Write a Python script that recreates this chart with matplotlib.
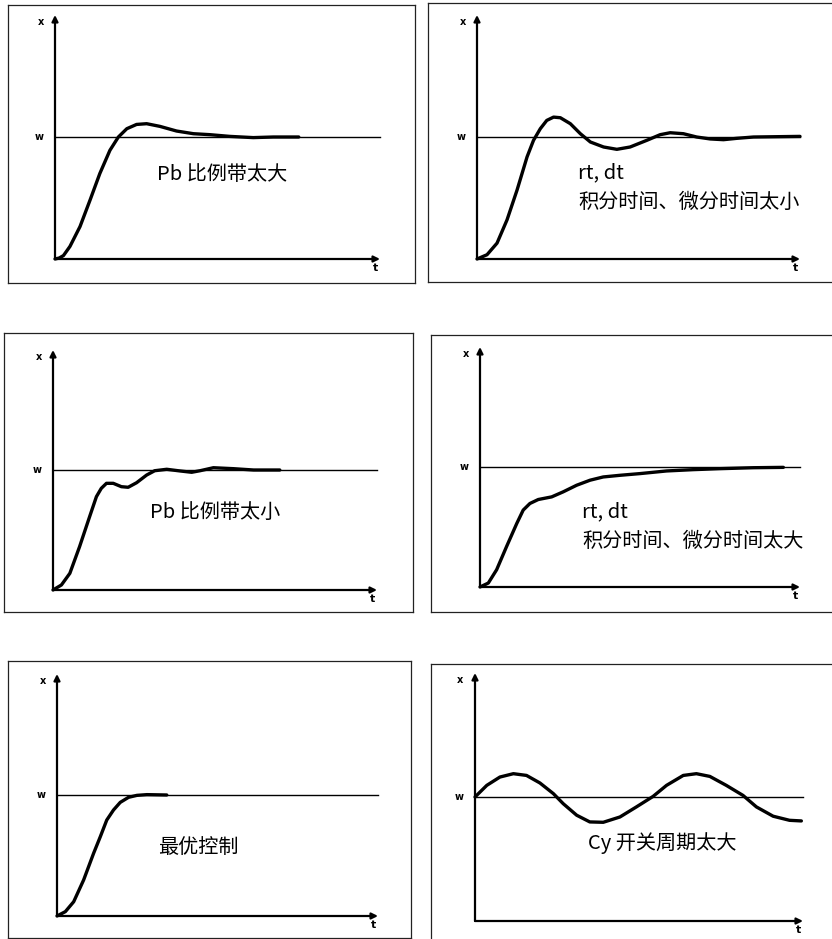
import matplotlib
matplotlib.use("Agg")
import matplotlib.pyplot as plt

plt.rcParams["font.family"] = ["Noto Sans CJK SC", "DejaVu Sans"]

# curves: t runs 0..1 along the time axis, x in units of w
t_pb_big = [0, 0.013, 0.026, 0.046, 0.077, 0.108, 0.138, 0.169, 0.195, 0.221, 0.251,
            0.282, 0.323, 0.374, 0.426, 0.477, 0.538, 0.610, 0.672, 0.75]
x_pb_big = [0, 0.008, 0.028, 0.103, 0.266, 0.484, 0.701, 0.891, 1.0, 1.068, 1.103,
            1.109, 1.087, 1.049, 1.027, 1.019, 1.005, 0.995, 1.0, 1.0]

t_it_small = [0, 0.031, 0.062, 0.093, 0.124, 0.155, 0.175, 0.196, 0.216, 0.237, 0.258,
              0.289, 0.320, 0.351, 0.392, 0.433, 0.474, 0.526, 0.567, 0.598, 0.639,
              0.680, 0.722, 0.763, 0.804, 0.856, 1.0]
x_it_small = [0, 0.035, 0.130, 0.321, 0.565, 0.837, 0.973, 1.068, 1.136, 1.163, 1.158,
              1.109, 1.027, 0.959, 0.918, 0.899, 0.918, 0.973, 1.019, 1.035, 1.027,
              1.0, 0.984, 0.978, 0.989, 1.0, 1.005]

t_pb_small = [0, 0.026, 0.052, 0.082, 0.113, 0.134, 0.149, 0.165, 0.186, 0.211, 0.232,
              0.258, 0.289, 0.314, 0.351, 0.392, 0.428, 0.454, 0.495, 0.557, 0.619, 0.70]
x_pb_small = [0, 0.042, 0.139, 0.361, 0.611, 0.778, 0.847, 0.889, 0.889, 0.861, 0.856,
              0.894, 0.958, 0.994, 1.006, 0.992, 0.981, 0.994, 1.019, 1.011, 1.0, 1.0]

t_it_big = [0, 0.026, 0.052, 0.083, 0.115, 0.135, 0.156, 0.182, 0.224, 0.260, 0.302,
            0.344, 0.385, 0.438, 0.500, 0.583, 0.667, 0.750, 0.854, 0.948]
x_it_big = [0, 0.033, 0.144, 0.337, 0.530, 0.641, 0.696, 0.729, 0.751, 0.793, 0.848,
            0.890, 0.917, 0.931, 0.945, 0.967, 0.978, 0.986, 0.994, 0.997]

t_optimal = [0, 0.026, 0.052, 0.083, 0.114, 0.135, 0.155, 0.176, 0.197, 0.223, 0.249,
             0.280, 0.342]
x_optimal = [0, 0.036, 0.118, 0.298, 0.518, 0.656, 0.793, 0.876, 0.939, 0.981, 0.997,
             1.003, 1.0]

t_cycle = [0, 0.036, 0.076, 0.117, 0.157, 0.198, 0.239, 0.269, 0.310, 0.350, 0.391,
           0.442, 0.492, 0.543, 0.584, 0.635, 0.675, 0.716, 0.766, 0.817, 0.858,
           0.909, 0.959, 0.995]
x_cycle = [1.0, 1.094, 1.161, 1.188, 1.174, 1.113, 1.027, 0.946, 0.853, 0.799, 0.796,
           0.839, 0.920, 1.005, 1.094, 1.174, 1.188, 1.166, 1.094, 1.013, 0.920,
           0.845, 0.812, 0.807]

labels = [
    ["Pb 比例带太大"],
    ["rt, dt", "积分时间、微分时间太小"],
    ["Pb 比例带太小"],
    ["rt, dt", "积分时间、微分时间太大"],
    ["最优控制"],
    ["Cy 开关周期太大"],
]
curves = [
    (t_pb_big, x_pb_big),
    (t_it_small, x_it_small),
    (t_pb_small, x_pb_small),
    (t_it_big, x_it_big),
    (t_optimal, x_optimal),
    (t_cycle, x_cycle),
]

# layout in pixels: box (left, top, right, bottom), origin, px per unit t / x, label anchor
W, H = 832, 939
layout = [
    dict(box=(8, 5, 415, 283), org=(55, 259), sx=325, sy=122, txt=(0.314, 0.69)),
    dict(box=(428, 3, 834, 282), org=(477, 259), sx=323, sy=122, txt=(0.313, 0.705)),
    dict(box=(4, 333, 413, 612), org=(53, 590), sx=324, sy=120, txt=(0.30, 0.65)),
    dict(box=(431, 335, 834, 612), org=(480, 587), sx=320, sy=120, txt=(0.32, 0.625)),
    dict(box=(8, 661, 411, 938), org=(57, 916), sx=321, sy=121, txt=(0.315, 0.57)),
    dict(box=(431, 664, 834, 942), org=(475, 921), sx=328, sy=124, txt=(0.345, 0.63)),
]
line_gap = 0.245  # spacing between two label lines, in units of w

fig = plt.figure(figsize=(W / 100, H / 100), dpi=100)
fig.patch.set_facecolor("white")

for (t, x), lines, lay in zip(curves, labels, layout):
    L, T, R, B = lay["box"]
    ox, oy = lay["org"]
    sx, sy = lay["sx"], lay["sy"]
    ax = fig.add_axes([L / W, 1 - B / H, (R - L) / W, (B - T) / H])
    ax.set_xlim((L - ox) / sx, (R - ox) / sx)
    ax.set_ylim((oy - B) / sy, (oy - T) / sy)
    ax.set_xticks([])
    ax.set_yticks([])
    for sp in ax.spines.values():
        sp.set_linewidth(0.9)
        sp.set_color("#222222")

    # axes with arrow heads
    arrow = dict(arrowstyle="-|>", lw=1.6, color="black", mutation_scale=9,
                 shrinkA=0, shrinkB=0)
    ax.annotate("", xy=(1.0, 0), xytext=(0, 0), arrowprops=arrow)
    ax.annotate("", xy=(0, 2.0), xytext=(0, 0), arrowprops=arrow)

    # set point line
    ax.plot([0, 1.0], [1, 1], color="black", lw=1.0)

    ax.plot(t, x, color="black", lw=2.4, solid_capstyle="round",
            solid_joinstyle="round")

    ax.text(-0.035, 1.0, "w", ha="right", va="center", fontsize=7,
            fontweight="bold", family="DejaVu Sans")
    ax.text(-0.035, 1.94, "x", ha="right", va="center", fontsize=7,
            fontweight="bold", family="DejaVu Sans")
    ax.text(0.985, -0.075, "t", ha="center", va="center", fontsize=8,
            fontweight="bold", family="DejaVu Sans")

    tx, ty = lay["txt"]
    for i, s in enumerate(lines):
        ax.text(tx, ty - i * line_gap, s, ha="left", va="center", fontsize=14.5)

fig.savefig("out.png", dpi=100, facecolor="white")
